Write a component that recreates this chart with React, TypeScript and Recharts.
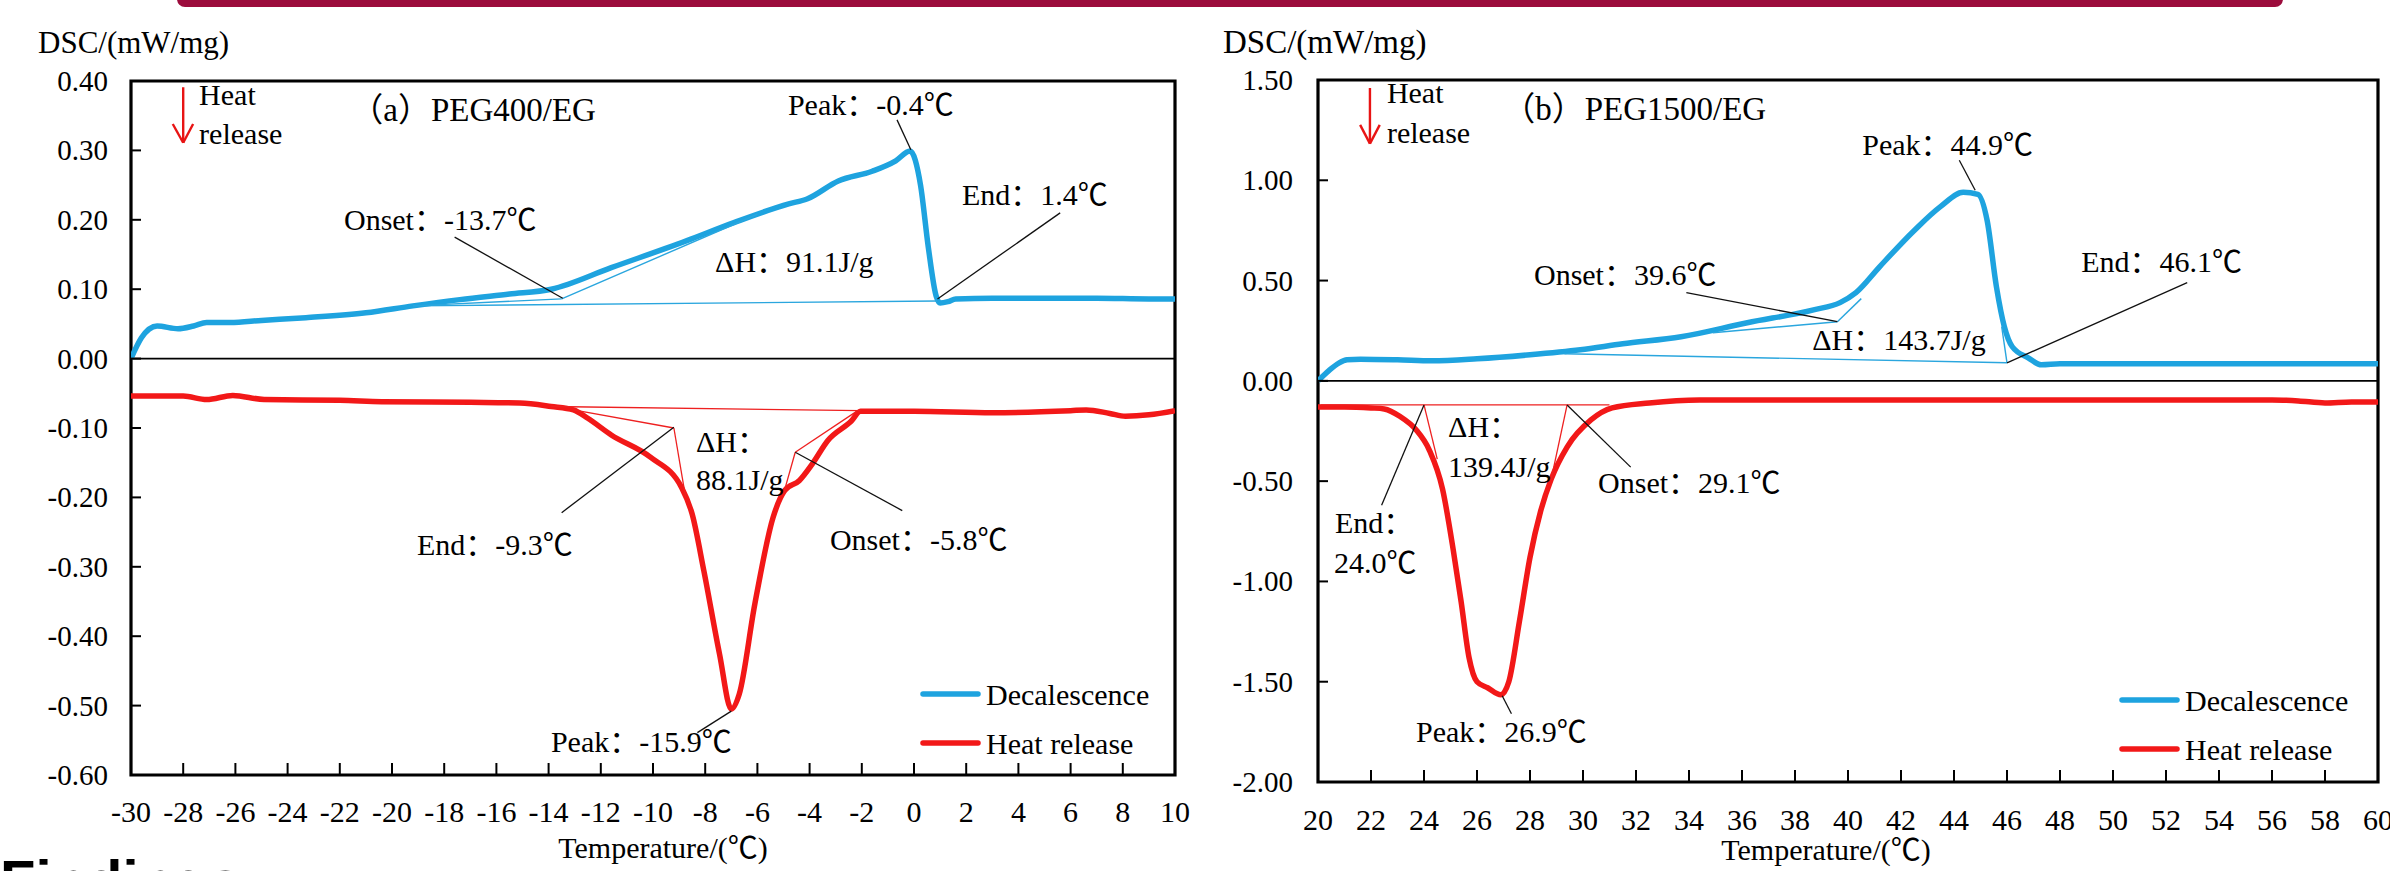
import React from 'react';
import { ComposedChart, Line, XAxis, YAxis, ReferenceLine, ReferenceArea, ReferenceDot, Legend, Label } from 'recharts';

const FONT = "'Liberation Serif', 'Times New Roman', 'Noto Sans CJK SC', serif";
const BLUE = '#1ea3df';
const RED = '#f21818';
const THIN_BLUE = '#2aa6de';
const THIN_RED = '#ee2020';

// ---------------- Chart (a) PEG400/EG ----------------
const aXTicks = [-30, -28, -26, -24, -22, -20, -18, -16, -14, -12, -10, -8, -6, -4, -2, 0, 2, 4, 6, 8, 10];
const aYTicks = [0.4, 0.3, 0.2, 0.1, 0, -0.1, -0.2, -0.3, -0.4, -0.5, -0.6];

const aDecX = [-30, -29.6, -29.0, -28.2, -27.6, -27.1, -26.2, -25, -23.3, -21, -19.2, -17.4, -15.5, -13.9, -11.6, -8.7, -6.9, -4.8, -4.1, -2.9, -1.6, -0.7, -0.15, 0.25, 0.55, 0.85, 1.0, 1.3, 1.6, 3, 5, 7, 9, 10];
const aDecY = [0, 0.03, 0.047, 0.043, 0.047, 0.052, 0.052, 0.055, 0.059, 0.066, 0.076, 0.085, 0.093, 0.1, 0.131, 0.17, 0.196, 0.223, 0.23, 0.256, 0.27, 0.285, 0.299, 0.25, 0.16, 0.09, 0.08, 0.082, 0.086, 0.087, 0.087, 0.087, 0.086, 0.086];

const aHeatX = [-30, -28, -27.1, -26.1, -24.9, -22, -20.4, -17, -15.1, -13.9, -13.05, -12.5, -11.6, -10.1, -8.9, -8.5, -8.05, -7.45, -7.0, -6.7, -6.1, -5.4, -4.95, -4.4, -3.9, -3.3, -2.4, -2.05, 0, 3, 6, 6.6, 7.5, 8.1, 9, 10];
const aHeatY = [-0.054, -0.054, -0.059, -0.053, -0.059, -0.06, -0.062, -0.063, -0.064, -0.069, -0.074, -0.086, -0.11, -0.142, -0.186, -0.224, -0.306, -0.426, -0.505, -0.484, -0.354, -0.229, -0.19, -0.176, -0.152, -0.118, -0.09, -0.076, -0.076, -0.078, -0.075, -0.074, -0.079, -0.083, -0.081, -0.075];

const aBlueThin = [
  [[-19.2, 0.076], [0.88, 0.083]],
  [[-19.2, 0.076], [-13.5, 0.086], [-6.0, 0.208]],
];
const aRedThin = [
  [[-13.9, -0.069], [-2.05, -0.075]],
  [[-13.05, -0.074], [-9.2, -0.1], [-8.75, -0.2]],
  [[-2.2, -0.076], [-4.55, -0.135], [-5.0, -0.195]],
];
const aLeaders = [
  [[-0.65, 0.344], [-0.12, 0.301]],
  [[-17.6, 0.175], [-13.46, 0.087]],
  [[0.9, 0.086], [5.6, 0.21]],
  [[-9.2, -0.099], [-13.5, -0.222]],
  [[-4.55, -0.135], [-0.45, -0.219]],
  [[-7.0, -0.508], [-8.3, -0.539]],
];
const aArrow = [
  [[-28.0, 0.391], [-28.0, 0.311]],
  [[-28.4, 0.338], [-28.0, 0.311], [-27.62, 0.338]],
];
const aNotes = [
  { x: -27.39, y: 0.365, t: 'Heat', s: 30 },
  { x: -27.39, y: 0.309, t: 'release', s: 30 },
  { x: -21.6, y: 0.342, t: '（a）PEG400/EG', s: 33 },
  { x: -4.83, y: 0.351, t: 'Peak：-0.4℃', s: 30 },
  { x: 1.84, y: 0.221, t: 'End：1.4℃', s: 30 },
  { x: -21.84, y: 0.185, t: 'Onset：-13.7℃', s: 30 },
  { x: -7.62, y: 0.125, t: 'ΔH：91.1J/g', s: 30 },
  { x: -8.35, y: -0.135, t: 'ΔH：', s: 30 },
  { x: -8.35, y: -0.189, t: '88.1J/g', s: 30 },
  { x: -19.04, y: -0.283, t: 'End：-9.3℃', s: 30 },
  { x: -3.22, y: -0.276, t: 'Onset：-5.8℃', s: 30 },
  { x: -13.91, y: -0.567, t: 'Peak：-15.9℃', s: 30 },
];

// ---------------- Chart (b) PEG1500/EG ----------------
const bXTicks = [20, 22, 24, 26, 28, 30, 32, 34, 36, 38, 40, 42, 44, 46, 48, 50, 52, 54, 56, 58, 60];
const bYTicks = [1.5, 1.0, 0.5, 0, -0.5, -1.0, -1.5, -2.0];

const bDecX = [20, 20.4, 20.8, 21.1, 21.6, 23, 24.3, 26, 28, 29.9, 31.5, 33.7, 36.2, 38.7, 39.7, 40.3, 41.2, 42.5, 43.5, 44.35, 44.9, 45.25, 45.6, 45.9, 46.2, 46.8, 47.3, 48, 52, 56, 60];
const bDecY = [0, 0.05, 0.09, 0.105, 0.108, 0.105, 0.1, 0.11, 0.13, 0.155, 0.185, 0.22, 0.29, 0.354, 0.39, 0.44, 0.57, 0.75, 0.87, 0.94, 0.93, 0.8, 0.47, 0.27, 0.17, 0.115, 0.08, 0.085, 0.085, 0.085, 0.085];

const bHeatX = [20, 21, 22, 22.5, 23.1, 23.7, 24.2, 24.7, 25.1, 25.4, 25.7, 26.0, 26.4, 26.9, 27.2, 27.6, 28.0, 28.4, 28.8, 29.4, 30.3, 31.1, 32.5, 34.4, 40, 50, 56, 57, 58, 59, 60];
const bHeatY = [-0.13, -0.13, -0.135, -0.14, -0.178, -0.244, -0.345, -0.54, -0.84, -1.1, -1.38, -1.5, -1.53, -1.565, -1.5, -1.2, -0.88, -0.65, -0.49, -0.33, -0.195, -0.135, -0.11, -0.095, -0.095, -0.095, -0.095, -0.1, -0.11, -0.105, -0.105];

const bBlueThin = [
  [[29.3, 0.135], [46.0, 0.09]],
  [[34.9, 0.24], [39.6, 0.295], [40.5, 0.41]],
  [[46.0, 0.09], [45.8, 0.27]],
];
const bRedThin = [
  [[20.1, -0.12], [31.0, -0.12]],
  [[24.0, -0.12], [24.5, -0.39]],
  [[29.4, -0.12], [28.8, -0.49]],
];
const bLeaders = [
  [[44.2, 1.1], [44.8, 0.95]],
  [[33.9, 0.44], [39.6, 0.295]],
  [[46.0, 0.09], [52.8, 0.49]],
  [[24.0, -0.12], [22.4, -0.62]],
  [[29.4, -0.12], [31.8, -0.43]],
  [[26.95, -1.57], [27.3, -1.66]],
];
const bArrow = [
  [[21.96, 1.46], [21.96, 1.183]],
  [[21.59, 1.276], [21.96, 1.183], [22.33, 1.276]],
];
const bNotes = [
  { x: 22.6, y: 1.385, t: 'Heat', s: 30 },
  { x: 22.6, y: 1.186, t: 'release', s: 30 },
  { x: 26.95, y: 1.3, t: '（b）PEG1500/EG', s: 33 },
  { x: 40.54, y: 1.126, t: 'Peak：44.9℃', s: 30 },
  { x: 28.15, y: 0.478, t: 'Onset：39.6℃', s: 30 },
  { x: 38.65, y: 0.154, t: 'ΔH：143.7J/g', s: 30 },
  { x: 48.8, y: 0.543, t: 'End：46.1℃', s: 30 },
  { x: 24.91, y: -0.28, t: 'ΔH：', s: 30 },
  { x: 24.91, y: -0.479, t: '139.4J/g', s: 30 },
  { x: 30.57, y: -0.559, t: 'Onset：29.1℃', s: 30 },
  { x: 20.64, y: -0.758, t: 'End：', s: 30 },
  { x: 20.6, y: -0.958, t: '24.0℃', s: 30 },
  { x: 23.7, y: -1.8, t: 'Peak：26.9℃', s: 30 },
];

const zip = (xs: number[], ys: number[]) => xs.map((x, i) => ({ x, y: ys[i] }));

function segs(polys: number[][][], color: string, width: number, keyp: string) {
  const out: any[] = [];
  polys.forEach((poly, pi) => {
    for (let i = 0; i < poly.length - 1; i++) {
      out.push(
        <ReferenceLine
          key={`${keyp}-${pi}-${i}`}
          segment={[{ x: poly[i][0], y: poly[i][1] }, { x: poly[i + 1][0], y: poly[i + 1][1] }]}
          stroke={color}
          strokeWidth={width}
          ifOverflow="visible"
        />
      );
    }
  });
  return out;
}

const makeXTick = (dy: number) => (p: any) => {
  const { x, y, payload } = p;
  return (
    <g>
      <line x1={x} y1={y} x2={x} y2={y - 12} stroke="#000" strokeWidth={2} />
      <text x={x} y={y + dy} textAnchor="middle" fontFamily={FONT} fontSize={30} fill="#000">{payload.value}</text>
    </g>
  );
};

const makeYTick = (gap: number) => (p: any) => {
  const { x, y, payload } = p;
  return (
    <g>
      <line x1={x} y1={y} x2={x + 10} y2={y} stroke="#000" strokeWidth={2} />
      <text x={x - gap} y={y + 10} textAnchor="end" fontFamily={FONT} fontSize={29} fill="#000">{Number(payload.value).toFixed(2)}</text>
    </g>
  );
};

const renderLegend = (p: any) => {
  const items = p.payload || [];
  return (
    <svg width={270} height={100} style={{ overflow: 'visible', display: 'block' }}>
      {items.map((it: any, i: number) => (
        <g key={i}>
          <line x1={5} x2={60} y1={22 + i * 49} y2={22 + i * 49} stroke={it.color} strokeWidth={5.5} strokeLinecap="round" />
          <text x={68} y={33 + i * 49} fontFamily={FONT} fontSize={30} fill="#000">{it.value}</text>
        </g>
      ))}
    </svg>
  );
};

function Panel({ cfg }: { cfg: any }) {
  const XT = makeXTick(cfg.xTickDy);
  const YT = makeYTick(cfg.yTickGap);
  return (
    <ComposedChart width={cfg.width} height={cfg.height} margin={cfg.margin}>
      <XAxis
        type="number" dataKey="x" domain={cfg.xDomain} ticks={cfg.xTicks} interval={0}
        allowDataOverflow axisLine={false} tickLine={false} tickSize={0} tickMargin={0}
        height={cfg.height - cfg.margin.top - cfg.margin.bottom - cfg.plotH}
        tick={XT}
      >
        <Label content={(p: any) => {
          const vb = p.viewBox || {};
          return <text x={vb.x + vb.width / 2 + cfg.xTitleDx} y={vb.y + cfg.xTitleDy} textAnchor="middle" fontFamily={FONT} fontSize={30} fill="#000">Temperature/(℃)</text>;
        }} />
      </XAxis>
      <YAxis
        type="number" domain={cfg.yDomain} ticks={cfg.yTicks} interval={0}
        allowDataOverflow axisLine={false} tickLine={false} tickSize={0} tickMargin={0}
        width={cfg.yAxisWidth} tick={YT}
      >
        <Label content={(p: any) => {
          const vb = p.viewBox || {};
          return <text x={vb.x} y={vb.y + cfg.yTitleDy} textAnchor="start" fontFamily={FONT} fontSize={cfg.yTitleSize} fill="#000">DSC/(mW/mg)</text>;
        }} />
      </YAxis>
      <ReferenceLine y={0} stroke="#000" strokeWidth={1.6} />
      <Line data={cfg.dec} dataKey="y" name="Decalescence" stroke={BLUE} strokeWidth={5.5} dot={false} activeDot={false} isAnimationActive={false} type="monotone" strokeLinejoin="round" legendType="line" />
      <Line data={cfg.heat} dataKey="y" name="Heat release" stroke={RED} strokeWidth={5.5} dot={false} activeDot={false} isAnimationActive={false} type="monotone" strokeLinejoin="round" legendType="line" />
      {segs(cfg.blueThin, THIN_BLUE, 1.4, 'bt')}
      {segs(cfg.redThin, THIN_RED, 1.3, 'rt')}
      {segs(cfg.leaders, '#111', 1.3, 'ld')}
      {segs(cfg.arrow, '#e81414', 2.4, 'ar')}
      {cfg.notes.map((n: any, i: number) => (
        <ReferenceDot key={`n${i}`} x={n.x} y={n.y} r={0} fill="none" stroke="none" ifOverflow="visible"
          label={(p: any) => {
            const vb = p.viewBox || {};
            return <text x={vb.x} y={vb.y} textAnchor="start" fontFamily={FONT} fontSize={n.s} fill="#000">{n.t}</text>;
          }} />
      ))}
      <ReferenceArea x1={cfg.xDomain[0]} x2={cfg.xDomain[1]} y1={cfg.yDomain[0]} y2={cfg.yDomain[1]} fill="none" fillOpacity={0} stroke="#000" strokeWidth={3.2} ifOverflow="visible" />
      <Legend layout="vertical" align="center" verticalAlign="middle" content={renderLegend}
        wrapperStyle={{ position: 'absolute', left: cfg.legendLeft, top: cfg.legendTop, width: 270, height: 100 }} />
    </ComposedChart>
  );
}

const A: any = {
  width: 1190, height: 871, margin: { top: 81, right: 15, bottom: 0, left: 38 }, yAxisWidth: 93, plotH: 694,
  xDomain: [-30, 10], yDomain: [-0.6, 0.4], xTicks: aXTicks, yTicks: aYTicks,
  dec: zip(aDecX, aDecY), heat: zip(aHeatX, aHeatY),
  blueThin: aBlueThin, redThin: aRedThin, leaders: aLeaders, arrow: aArrow, notes: aNotes,
  xTickDy: 47, yTickGap: 23, xTitleDy: 83, xTitleDx: 10, yTitleDy: -28, yTitleSize: 31,
  legendLeft: 918, legendTop: 672,
};

const B: any = {
  width: 1200, height: 871, margin: { top: 80, right: 12, bottom: 0, left: 33 }, yAxisWidth: 95, plotH: 702,
  xDomain: [20, 60], yDomain: [-2, 1.5], xTicks: bXTicks, yTicks: bYTicks,
  dec: zip(bDecX, bDecY), heat: zip(bHeatX, bHeatY),
  blueThin: bBlueThin, redThin: bRedThin, leaders: bLeaders, arrow: bArrow, notes: bNotes,
  xTickDy: 48, yTickGap: 25, xTitleDy: 78, xTitleDx: -22, yTitleDy: -27, yTitleSize: 33,
  legendLeft: 927, legendTop: 678,
};

export default function App() {
  return (
    <div style={{ position: 'absolute', left: 0, top: 0, width: 2390, height: 871, background: '#fff', overflow: 'hidden' }}>
      <div style={{ position: 'absolute', left: 177, top: -30, width: 2106, height: 37, boxSizing: 'border-box', border: '7px solid #9c0c3c', borderRadius: 8 }} />
      <svg width={2390} height={871} style={{ position: 'absolute', left: 0, top: 0 }}>
        <text x={0} y={901} fontFamily="'Liberation Sans', Arial, sans-serif" fontWeight="bold" fontSize={58} fill="#000">Findings:</text>
      </svg>
      <div style={{ position: 'absolute', left: 0, top: 0 }}>
        <Panel cfg={A} />
      </div>
      <div style={{ position: 'absolute', left: 1190, top: 0 }}>
        <Panel cfg={B} />
      </div>
    </div>
  );
}
